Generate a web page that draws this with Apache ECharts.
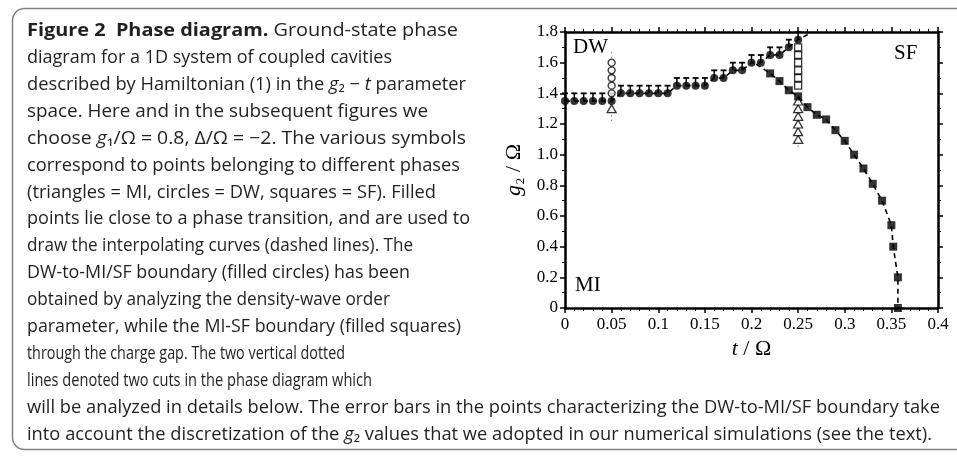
<!DOCTYPE html>
<html>
<head>
<meta charset="utf-8">
<script src="https://cdn.jsdelivr.net/npm/echarts@6/dist/echarts.min.js"></script>
<style>
html, body { margin: 0; padding: 0; background: #fff; }
#main { width: 957px; height: 459px; }
</style>
</head>
<body>
<div id="main"></div>
<script>
// tick labels
const xTicks = ['0', '0.05', '0.1', '0.15', '0.2', '0.25', '0.3', '0.35', '0.4']
const yTicks = ['0', '0.2', '0.4', '0.6', '0.8', '1.0', '1.2', '1.4', '1.6', '1.8']

// DW-to-MI/SF boundary, filled circles, upper end of error bar
const dwT = [0, 0.01, 0.02, 0.03, 0.04, 0.05, 0.06, 0.07, 0.08, 0.09, 0.10, 0.11, 0.12, 0.13,
  0.14, 0.15, 0.16, 0.17, 0.18, 0.19, 0.20, 0.21, 0.22, 0.23, 0.24, 0.25]
const dwG = [1.35, 1.35, 1.35, 1.35, 1.35, 1.35, 1.40, 1.40, 1.40, 1.40, 1.40, 1.40, 1.45, 1.45,
  1.45, 1.45, 1.50, 1.50, 1.55, 1.55, 1.60, 1.60, 1.65, 1.65, 1.70, 1.75]
const dwUp = [1.40, 1.40, 1.40, 1.40, 1.40, 1.40, 1.45, 1.45, 1.45, 1.45, 1.45, 1.45, 1.50, 1.50,
  1.50, 1.50, 1.55, 1.55, 1.60, 1.60, 1.65, 1.65, 1.70, 1.70, 1.75, 1.80]
// dashed curve continues past the last circle
const dwTailT = [0.265]
const dwTailG = [1.80]

// MI-SF boundary, filled squares
const sfT = [0.22, 0.23, 0.24, 0.25, 0.26, 0.27, 0.28, 0.29, 0.30, 0.31, 0.32, 0.33, 0.34, 0.35,
  0.352, 0.357, 0.357]
const sfG = [1.53, 1.48, 1.42, 1.38, 1.31, 1.26, 1.23, 1.16, 1.09, 1.00, 0.91, 0.81, 0.70, 0.54,
  0.40, 0.20, 0.00]
const sfHeadT = [0.205]
const sfHeadG = [1.59]

// open symbols along the two cuts
const dwOpenT = [0.05, 0.05, 0.05, 0.05, 0.05]
const dwOpenG = [1.40, 1.45, 1.50, 1.55, 1.60]
const miOpenT = [0.05, 0.25, 0.25, 0.25, 0.25, 0.25, 0.25]
const miOpenG = [1.30, 1.10, 1.15, 1.20, 1.25, 1.30, 1.35]
const sfOpenT = [0.25, 0.25, 0.25, 0.25, 0.25, 0.25]
const sfOpenG = [1.45, 1.50, 1.55, 1.60, 1.65, 1.70]

// vertical dotted cuts
const cutT = [0.05, 0.25]
const cutLo = [1.22, 1.05]
const cutHi = [1.67, 1.80]

// caption, one entry per printed line: [style, text] pieces and right edge
const caption = [
  [[['b', 'Figure 2  Phase diagram.'], ['n', ' Ground-state phase']], 458],
  [[['n', 'diagram for a 1D system of coupled cavities']], 392],
  [[['n', 'described by Hamiltonian (1) in the '], ['i', 'g'], ['n', '₂ − '], ['i', 't'], ['n', ' parameter']], 466],
  [[['n', 'space. Here and in the subsequent figures we']], 428],
  [[['n', 'choose '], ['i', 'g'], ['n', '₁/Ω = 0.8, Δ/Ω = −2. The various symbols']], 466],
  [[['n', 'correspond to points belonging to different phases']], 460],
  [[['n', '(triangles = MI, circles = DW, squares = SF). Filled']], 436],
  [[['n', 'points lie close to a phase transition, and are used to']], 470],
  [[['n', 'draw the interpolating curves (dashed lines). The']], 413],
  [[['n', 'DW-to-MI/SF boundary (filled circles) has been']], 410],
  [[['n', 'obtained by analyzing the density-wave order']], 390],
  [[['n', 'parameter, while the MI-SF boundary (filled squares)']], 461],
  [[['n', 'through the charge gap. The two vertical dotted']], 345],
  [[['n', 'lines denoted two cuts in the phase diagram which']], 372],
  [[['n', 'will be analyzed in details below. The error bars in the points characterizing the DW-to-MI/SF boundary take']], 940],
  [[['n', 'into account the discretization of the '], ['i', 'g'], ['n', '₂ values that we adopted in our numerical simulations (see the text).']], 932],
]

const txtColor = '#231f20'
const capFont = 'Open Sans'
const capSize = 18
const capStyles = {
  n: { fontFamily: capFont, fontSize: capSize, fontWeight: 'normal', fontStyle: 'normal', fill: txtColor, color: txtColor },
  b: { fontFamily: capFont, fontSize: capSize, fontWeight: 'bold', fontStyle: 'normal', fill: txtColor, color: txtColor },
  i: { fontFamily: capFont, fontSize: capSize, fontWeight: 'normal', fontStyle: 'italic', fill: txtColor, color: txtColor },
}

const ctx = document.createElement('canvas').getContext('2d')
function pieceWidth(key, text) {
  const s = capStyles[key]
  ctx.font = `${s.fontStyle} ${s.fontWeight} ${s.fontSize}px "${s.fontFamily}"`
  return ctx.measureText(text).width
}

const capLeft = 27
const capTop = 31
const capStep = 26.9
const captionGraphics = caption.map(([pieces, right], k) => {
  let w = 0
  pieces.forEach(([key, t]) => { w += pieceWidth(key, t) })
  return {
    type: 'text',
    x: capLeft,
    y: capTop + capStep * k,
    scaleX: (right - capLeft) / w,
    style: {
      text: pieces.map(([key, t]) => `{${key}|${t}}`).join(''),
      rich: capStyles,
      fill: txtColor,
      verticalAlign: 'middle',
      textVerticalAlign: 'middle',
    },
  }
})

const serif = 'Liberation Serif'
const pairs = (a, b) => a.map((v, i) => [v, b[i]])

const chart = echarts.init(document.getElementById('main'))

const axisCommon = {
  type: 'value',
  axisLine: { onZero: false, lineStyle: { color: '#000', width: 2.5 } },
  axisTick: { length: 5, lineStyle: { color: '#000', width: 1.5 } },
  minorTick: { show: true, length: 3, lineStyle: { color: '#000', width: 1 } },
  splitLine: { show: false },
  minorSplitLine: { show: false },
}

const nameRich = {
  i: { fontFamily: serif, fontSize: 22, fontStyle: 'italic', color: '#000' },
  n: { fontFamily: serif, fontSize: 22, color: '#000' },
}

chart.setOption({
  animation: false,
  grid: { left: 565, right: 19, top: 32, bottom: 151 },
  xAxis: [
    {
      ...axisCommon,
      min: 0, max: 0.4, interval: 0.05,
      minorTick: { ...axisCommon.minorTick, splitNumber: 5 },
      position: 'bottom',
      axisLabel: {
        color: '#000', fontFamily: serif, fontSize: 17, margin: 8,
        formatter: v => xTicks[Math.round(v / 0.05)],
      },
      name: '{i|t}{n| / Ω}',
      nameLocation: 'middle',
      nameGap: 24,
      nameTextStyle: { rich: nameRich },
    },
    {
      ...axisCommon,
      min: 0, max: 0.4, interval: 0.05,
      minorTick: { ...axisCommon.minorTick, splitNumber: 5 },
      position: 'top',
      axisLabel: { show: false },
    },
  ],
  yAxis: [
    {
      ...axisCommon,
      min: 0, max: 1.8, interval: 0.2,
      minorTick: { ...axisCommon.minorTick, splitNumber: 2 },
      position: 'left',
      axisLabel: {
        color: '#000', fontFamily: serif, fontSize: 17, margin: 7,
        formatter: v => yTicks[Math.round(v / 0.2)],
      },
      name: '{i|g}{n|₂ / Ω}',
      nameLocation: 'middle',
      nameGap: 40,
      nameTextStyle: { rich: nameRich },
    },
    {
      ...axisCommon,
      min: 0, max: 1.8, interval: 0.2,
      minorTick: { ...axisCommon.minorTick, splitNumber: 2 },
      position: 'right',
      axisLabel: { show: false },
    },
  ],
  graphic: [
    {
      type: 'rect',
      shape: { x: 12.5, y: 8.5, width: 1000, height: 441, r: 12 },
      style: { fill: 'none', stroke: '#808080', lineWidth: 1.5 },
    },
    ...captionGraphics,
    { type: 'text', x: 573, y: 47, style: { text: 'DW', fontFamily: serif, fontSize: 21, fill: '#000', verticalAlign: 'middle', textVerticalAlign: 'middle' } },
    { type: 'text', x: 894, y: 53, style: { text: 'SF', fontFamily: serif, fontSize: 21, fill: '#000', verticalAlign: 'middle', textVerticalAlign: 'middle' } },
    { type: 'text', x: 575, y: 285, style: { text: 'MI', fontFamily: serif, fontSize: 21, fill: '#000', verticalAlign: 'middle', textVerticalAlign: 'middle' } },
  ],
  series: [
    ...cutT.map((t, i) => ({
      type: 'line',
      z: 1,
      symbol: 'none',
      silent: true,
      data: [[t, cutLo[i]], [t, cutHi[i]]],
      lineStyle: { color: '#9a9a9a', width: 1.2, type: [1.5, 3] },
    })),
    {
      type: 'line',
      z: 2,
      symbol: 'none',
      silent: true,
      data: pairs(dwT, dwG).concat(pairs(dwTailT, dwTailG)),
      lineStyle: { color: '#000', width: 1.6, type: [5, 4] },
    },
    {
      type: 'line',
      z: 2,
      symbol: 'none',
      silent: true,
      data: pairs(sfHeadT, sfHeadG).concat(pairs(sfT, sfG)),
      lineStyle: { color: '#000', width: 1.6, type: [5, 4] },
    },
    {
      type: 'custom',
      z: 3,
      silent: true,
      clip: false,
      data: dwT.map((t, i) => [t, dwG[i], dwUp[i]]),
      renderItem: (params, api) => {
        const p0 = api.coord([api.value(0), api.value(1)])
        const p1 = api.coord([api.value(0), api.value(2)])
        return {
          type: 'group',
          children: [
            { type: 'line', shape: { x1: p0[0], y1: p0[1], x2: p1[0], y2: p1[1] }, style: { stroke: '#000', lineWidth: 1.5 } },
            { type: 'line', shape: { x1: p1[0] - 3, y1: p1[1], x2: p1[0] + 3, y2: p1[1] }, style: { stroke: '#000', lineWidth: 1.8 } },
          ],
        }
      },
    },
    {
      type: 'scatter',
      z: 4,
      silent: true,
      symbol: 'circle',
      symbolSize: 7,
      data: pairs(dwOpenT, dwOpenG),
      itemStyle: { color: '#fff', borderColor: '#000', borderWidth: 1.3 },
    },
    {
      type: 'scatter',
      z: 4,
      silent: true,
      symbol: 'triangle',
      symbolSize: [9, 8],
      data: pairs(miOpenT, miOpenG),
      itemStyle: { color: '#fff', borderColor: '#000', borderWidth: 1.3 },
    },
    {
      type: 'scatter',
      z: 4,
      silent: true,
      symbol: 'rect',
      symbolSize: 7,
      data: pairs(sfOpenT, sfOpenG),
      itemStyle: { color: '#fff', borderColor: '#000', borderWidth: 1.3 },
    },
    {
      type: 'scatter',
      z: 5,
      silent: true,
      symbol: 'circle',
      symbolSize: 8,
      data: pairs(dwT, dwG),
      itemStyle: { color: '#000' },
    },
    {
      type: 'scatter',
      z: 5,
      silent: true,
      symbol: 'rect',
      symbolSize: 8,
      data: pairs(sfT, sfG),
      itemStyle: { color: '#000' },
    },
  ],
})
</script>
</body>
</html>
